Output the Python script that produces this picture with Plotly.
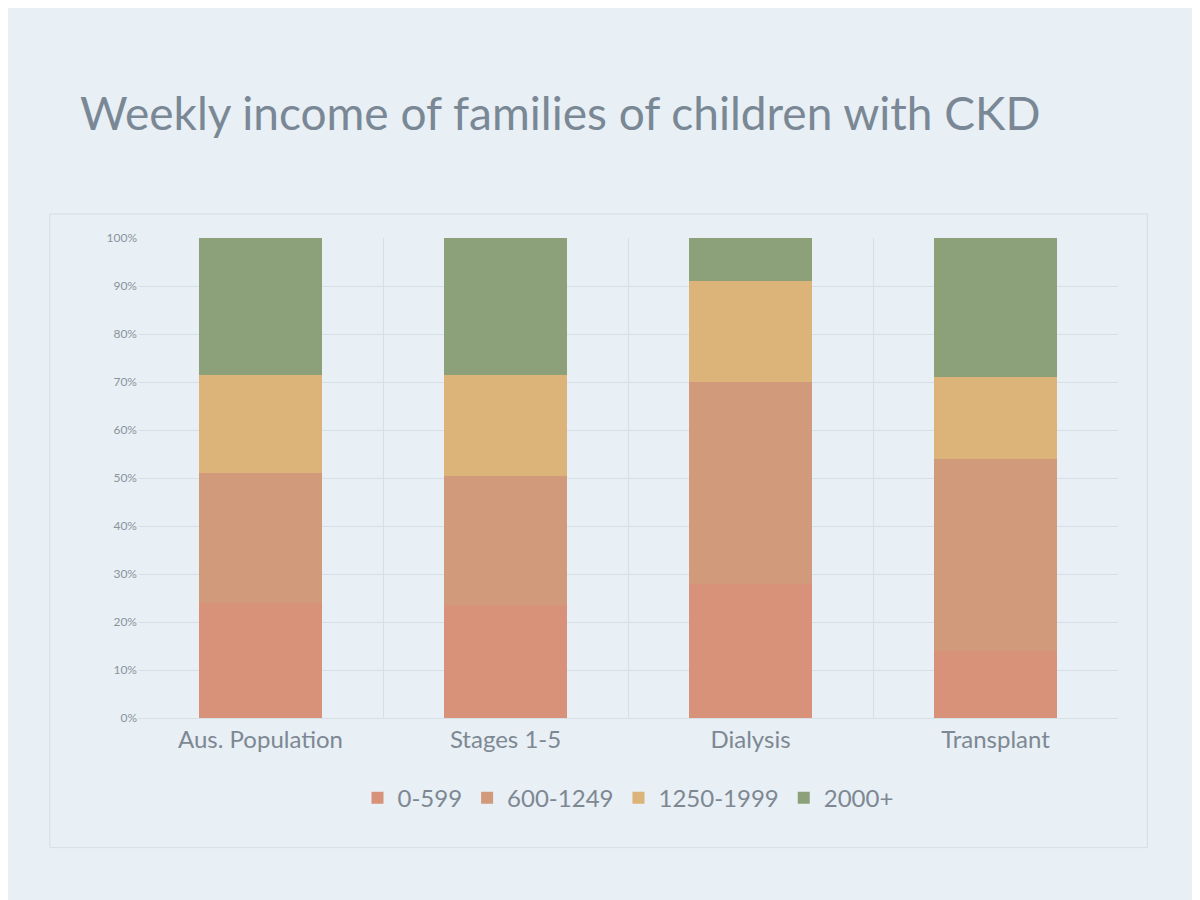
import plotly.graph_objects as go

categories = ["Aus. Population", "Stages 1-5", "Dialysis", "Transplant"]
series_names = ["0-599", "600-1249", "1250-1999", "2000+"]
income_0_599 = [24, 23.5, 28, 14]
income_600_1249 = [27, 27, 42, 40]
income_1250_1999 = [20.5, 21, 21, 17]
income_2000_plus = [28.5, 28.5, 9, 29]
series_values = [income_0_599, income_600_1249, income_1250_1999, income_2000_plus]
colors = ["#d9927a", "#d09a7b", "#dcb379", "#8ca079"]
y_ticks = [0, 10, 20, 30, 40, 50, 60, 70, 80, 90, 100]
y_tick_labels = [f"{v}%" for v in y_ticks]

fig = go.Figure()
for name, vals, col in zip(series_names, series_values, colors):
    fig.add_trace(go.Bar(x=categories, y=vals, name=name, marker_color=col,
                         marker_line_width=0))

fig.update_layout(
    width=1200, height=900,
    barmode="stack", bargap=0.5,
    paper_bgcolor="#e8eff5", plot_bgcolor="#e8eff5",
    font=dict(family="Lato, Open Sans, sans-serif", color="#7d8893"),
    title=dict(text="Weekly income of families of children with CKD",
               x=0.06, xanchor="left", y=0.9, yanchor="top",
               font=dict(size=46, color="#7a8896", family="Lato, Open Sans, sans-serif")),
    margin=dict(l=130, r=90, t=230, b=190),
    legend=dict(orientation="h", x=0.5, xanchor="center", y=-0.12, yanchor="top",
                font=dict(size=24, color="#7d8893"), itemwidth=30,
                traceorder="normal"),
    xaxis=dict(tickson="boundaries", showgrid=True, gridcolor="#d6dee6",
               tickfont=dict(size=24, color="#7d8893"), ticks="",
               showline=True, linecolor="#d6dee6"),
    yaxis=dict(range=[0, 100], tickvals=y_ticks, ticktext=y_tick_labels,
               showgrid=True, gridcolor="#d6dee6", zeroline=False,
               tickfont=dict(size=12, color="#8a949d")),
    shapes=[dict(type="rect", xref="paper", yref="paper", x0=-0.09, x1=1.03,
                 y0=-0.27, y1=1.05, line=dict(color="#d6dee6", width=1))],
)

fig.write_html("out.html")
